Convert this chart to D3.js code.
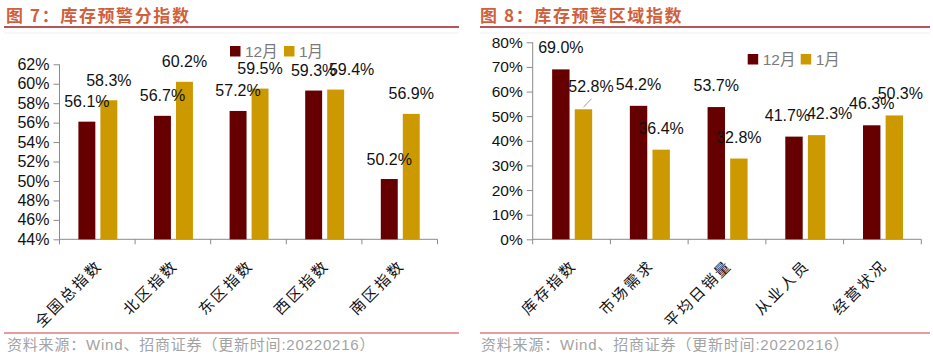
<!DOCTYPE html>
<html>
<head>
<meta charset="utf-8">
<script src="https://cdn.jsdelivr.net/npm/d3@7"></script>
<style>
  html, body { margin: 0; padding: 0; background: #fff; }
  svg { display: block; }
</style>
</head>
<body>
<svg id="chart" width="933" height="359"></svg>
<script>
// ---------- data ----------
const seriesNames = ["12月", "1月"];

const leftTitle = "图 7：库存预警分指数";
const leftCategories = ["全国总指数", "北区指数", "东区指数", "西区指数", "南区指数"];
const leftDec = [56.1, 56.7, 57.2, 59.3, 50.2];
const leftJan = [58.3, 60.2, 59.5, 59.4, 56.9];
const leftTicks = [44, 46, 48, 50, 52, 54, 56, 58, 60, 62];

const rightTitle = "图 8：库存预警区域指数";
const rightCategories = ["库存指数", "市场需求", "平均日销量", "从业人员", "经营状况"];
const rightDec = [69.0, 54.2, 53.7, 41.7, 46.3];
const rightJan = [52.8, 36.4, 32.8, 42.3, 50.3];
const rightTicks = [0, 10, 20, 30, 40, 50, 60, 70, 80];

const sourceText = "资料来源：Wind、招商证券（更新时间:20220216）";

// ---------- layout / style (not data) ----------
const colors = ["#660000", "#CC9900"];
const latin = "'Liberation Sans', Arial, 'Noto Sans CJK SC', sans-serif";
const cjk = "'Noto Sans CJK SC', sans-serif";

const svg = d3.select("#chart");

function panel(cfg) {
  const g = svg.append("g");

  // title
  g.append("text")
    .attr("x", cfg.titleX).attr("y", 22)
    .attr("font-family", cjk).attr("font-weight", "bold")
    .attr("font-size", 17).attr("letter-spacing", 1.6).attr("fill", "#D0603C")
    .text(cfg.title);
  g.append("line")
    .attr("x1", cfg.lineX0).attr("x2", cfg.lineX1)
    .attr("y1", 27).attr("y2", 27)
    .attr("stroke", "#9E1B22").attr("stroke-width", 1.6);
  g.append("line")
    .attr("x1", cfg.lineX0).attr("x2", cfg.lineX1)
    .attr("y1", 33).attr("y2", 33)
    .attr("stroke", "#f0f0f0").attr("stroke-width", 1);

  // scales
  const y = d3.scaleLinear().domain(cfg.domain).range([239.3, cfg.yTop]);
  const x = d3.scaleBand().domain(cfg.categories).range(cfg.xRange).padding(0);
  const bw = x.bandwidth();
  const x1 = d3.scaleBand().domain(seriesNames)
    .range([0.25 * bw, 0.765 * bw]).paddingInner(0.23).paddingOuter(0);

  // y axis
  const yAxis = d3.axisLeft(y).tickValues(cfg.ticks).tickSize(6).tickPadding(4)
    .tickFormat(d => d + "%");
  const ya = g.append("g").attr("transform", `translate(${cfg.xRange[0]},0)`).call(yAxis);
  ya.select(".domain").attr("stroke", "#8a8a8a").attr("d",
    `M0,${y(cfg.domain[1])}V${y(cfg.domain[0])}`);
  ya.selectAll(".tick line").attr("stroke", "#8a8a8a");
  ya.selectAll(".tick text").attr("font-family", latin).attr("font-size", cfg.tickFont)
    .attr("fill", "#111");

  // x axis line and boundary ticks
  const y0 = y(cfg.domain[0]);
  g.append("line").attr("x1", cfg.xRange[0]).attr("x2", cfg.xRange[1])
    .attr("y1", y0).attr("y2", y0).attr("stroke", "#8a8a8a");
  const bounds = cfg.categories.map(c => x(c)).concat([x(cfg.categories[cfg.categories.length - 1]) + bw]);
  g.selectAll(".xt").data(bounds).enter().append("line")
    .attr("x1", d => d).attr("x2", d => d)
    .attr("y1", y0).attr("y2", y0 + 5).attr("stroke", "#8a8a8a");

  // x labels
  g.selectAll(".xl").data(cfg.categories).enter().append("text")
    .attr("transform", d => `translate(${x(d) + bw / 2 + 6},${y0 + 27}) rotate(-45)`)
    .attr("text-anchor", "end")
    .attr("font-family", cjk).attr("font-size", 15).attr("letter-spacing", 2.5)
    .attr("fill", "#111")
    .text(d => d);

  // bars
  const rows = cfg.categories.map((c, i) => ({ c, i, vals: [cfg.dec[i], cfg.jan[i]] }));
  const grp = g.selectAll(".grp").data(rows).enter().append("g")
    .attr("transform", d => `translate(${x(d.c)},0)`);
  grp.selectAll("rect").data(d => d.vals.map((v, k) => ({ v, k, i: d.i }))).enter()
    .append("rect")
    .attr("x", d => x1(seriesNames[d.k]))
    .attr("width", x1.bandwidth())
    .attr("y", d => y(d.v))
    .attr("height", d => y0 - y(d.v))
    .attr("fill", d => colors[d.k]);

  grp.selectAll(".lbl").data(d => d.vals.map((v, k) => ({ v, k, i: d.i }))).enter()
    .append("text")
    .attr("x", d => x1(seriesNames[d.k]) + x1.bandwidth() / 2 + cfg.nudge[d.k][d.i][0])
    .attr("y", d => y(d.v) - cfg.labelGap + cfg.nudge[d.k][d.i][1])
    .attr("text-anchor", "middle")
    .attr("font-family", latin).attr("font-size", 16).attr("fill", "#111")
    .text(d => d.v.toFixed(1) + "%");

  // leader line
  if (cfg.leader) {
    const L = cfg.leader;
    const cx = x(cfg.categories[L.i]) + x1(seriesNames[L.k]) + x1.bandwidth() / 2;
    const ty = y(cfg[L.k === 0 ? "dec" : "jan"][L.i]);
    g.append("line").attr("x1", cx).attr("y1", ty - 2)
      .attr("x2", cx + 8).attr("y2", ty - 10.5)
      .attr("stroke", "#a0a0a0").attr("stroke-width", 1);
  }

  // legend
  seriesNames.forEach((s, k) => {
    g.append("rect").attr("x", cfg.legend[k]).attr("y", cfg.legendY)
      .attr("width", 10.5).attr("height", 10.5).attr("fill", colors[k]);
    g.append("text").attr("x", cfg.legend[k] + 15).attr("y", cfg.legendY + 10.8)
      .attr("font-family", latin).attr("font-size", 15.5).attr("fill", "#7a7a7a")
      .text(s);
  });

  // footer
  g.append("line").attr("x1", cfg.lineX0).attr("x2", cfg.lineX1)
    .attr("y1", 333).attr("y2", 333).attr("stroke", "#D23C3C").attr("stroke-width", 1.2);
  g.append("text").attr("x", cfg.titleX + 1).attr("y", 350)
    .attr("font-family", latin).attr("font-size", 15).attr("letter-spacing", 0.8)
    .attr("fill", "#a3a3a3")
    .text(sourceText);
}

const zero = () => [[0, 0], [0, 0], [0, 0], [0, 0], [0, 0]];

panel({
  title: leftTitle, titleX: 6, lineX0: 4, lineX1: 459,
  categories: leftCategories, dec: leftDec, jan: leftJan, ticks: leftTicks,
  domain: [44, 62], yTop: 64.3, xRange: [59.5, 437.5],
  labelGap: 14.5, tickFont: 16,
  nudge: [zero(), [[0, 0], [0, 0], [0, 0], [16, 0], [0, 0]]],
  legend: [230, 284], legendY: 46
});

panel({
  title: rightTitle, titleX: 480, lineX0: 480, lineX1: 930,
  categories: rightCategories, dec: rightDec, jan: rightJan, ticks: rightTicks,
  domain: [0, 80], yTop: 42.3, xRange: [532.7, 921.3],
  labelGap: 16, tickFont: 15.5,
  nudge: [[[0, 0], [0, 0], [0, 0], [-6.5, 0], [0, 0]],
          [[7.5, -1.5], [0, 0], [0, 0], [13, 0], [6, 0]]],
  leader: { i: 0, k: 1 },
  legend: [747.7, 800.7], legendY: 54
});
</script>
</body>
</html>
